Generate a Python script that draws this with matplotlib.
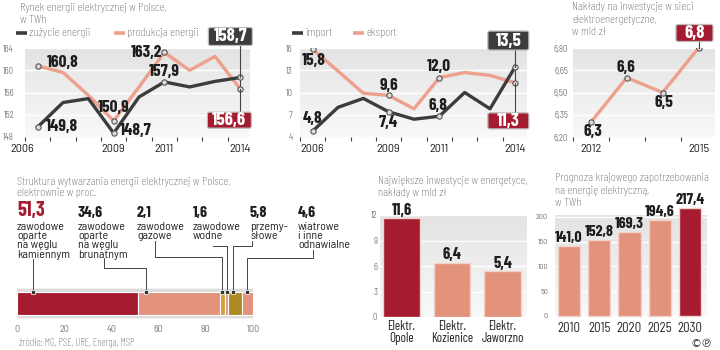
import matplotlib
matplotlib.use('Agg')
import matplotlib.pyplot as plt
import numpy as np
from matplotlib.colors import LinearSegmentedColormap
from matplotlib.patches import FancyBboxPatch
from matplotlib.lines import Line2D
from matplotlib.transforms import IdentityTransform, ScaledTranslation

# ---------------- data ----------------
years = list(range(2006, 2015))
consumption = [149.8, 154.2, 154.9, 148.7, 155.2, 157.9, 157.0, 158.0, 158.7]
production = [160.8, 159.6, 155.5, 150.9, 157.0, 163.2, 160.0, 162.5, 156.6]

imports = [4.8, 8.0, 9.2, 7.4, 6.4, 6.8, 10.0, 7.8, 13.5]
exports = [15.8, 12.9, 9.9, 9.6, 7.8, 12.0, 12.7, 12.3, 11.3]

inv_years = [2012, 2013, 2014, 2015]
inv_values = [6.3, 6.6, 6.5, 6.8]

struct_values = [51.3, 34.6, 2.1, 1.6, 5.8, 4.6]
struct_labels = [["zawodowe", "oparte", "na węglu", "kamiennym"],
                 ["zawodowe", "oparte", "na węglu", "brunatnym"],
                 ["zawodowe", "gazowe"],
                 ["zawodowe", "wodne"],
                 ["przemy-", "słowe"],
                 ["wiatrowe", "i inne", "odnawialne"]]

plants = ["Elektr.\nOpole", "Elektr.\nKozienice", "Elektr.\nJaworzno"]
plant_values = [11.6, 6.4, 5.4]

fc_years = ["2010", "2015", "2020", "2025", "2030"]
fc_values = [141.0, 152.8, 169.3, 194.6, 217.4]

# ---------------- style ----------------
W, H = 720, 350
fig = plt.figure(figsize=(7.2, 3.5), dpi=100)
NUM = ['Barlow Condensed', 'DejaVu Sans']
SEMI = ['Barlow Semi Condensed', 'DejaVu Sans']
COND = ['Barlow Condensed', 'DejaVu Sans']
DARK = '#3c3c3c'
RED = '#a51c30'
SALMON = '#e3927c'
ORANGE = '#eda08c'
GOLD1 = '#cfa43a'
GOLD2 = '#ac8a24'
GRAY = '#777777'
TITLE = '#505050'
TXTC = '#1e1e1e'
cmap_bg = LinearSegmentedColormap.from_list('bg', ['#f9f9f9', '#e3e3e3'])


def fmt(v, nd=1):
    return f"{v:.{nd}f}".replace('.', ',')


def ax_px(x0, y0, x1, y1):
    return fig.add_axes([x0 / W, 1 - y1 / H, (x1 - x0) / W, (y1 - y0) / H])


def ft(x, y, s, **kw):
    fig.text(x / W, 1 - y / H, s, **kw)


def title(x, y, s):
    ft(x, y, s, fontsize=9, color=TITLE, family=COND, fontweight='light',
       va='center', ha='left')


def background(ax):
    grad = np.linspace(0, 1, 200).reshape(-1, 1)
    ax.imshow(grad, extent=[0, 1, 0, 1], transform=ax.transAxes, cmap=cmap_bg,
              aspect='auto', origin='lower', zorder=0, interpolation='bilinear')


def style_line(ax, xlim, ylim, yticks, ylabels, xmajor, ypad):
    background(ax)
    ax.set_xlim(xlim)
    ax.set_ylim(ylim)
    for s in ax.spines.values():
        s.set_visible(False)
    ax.set_yticks(yticks)
    ax.set_yticklabels(ylabels, fontsize=6.3, color=GRAY, family=SEMI)
    ax.tick_params(axis='y', length=0, pad=ypad)
    ax.set_xticks(xmajor)
    ax.set_xticklabels([str(v) for v in xmajor], fontsize=8.8, color='#222222', family=SEMI)
    ax.tick_params(axis='x', which='major', length=0, pad=5)
    ax.set_xticks([v + 0.5 for v in range(int(xlim[0]), int(xlim[1]))], minor=True)
    ax.tick_params(axis='x', which='minor', length=3, width=0.8, color='#444444')
    ax.grid(axis='y', color='white', lw=1.0)
    ax.set_axisbelow(True)


def mark(ax, x, y):
    ax.plot([x], [y], 'o', ms=3.8, mfc='#dddddd', mec='#555555', mew=0.8, zorder=5)


def num(ax, x, y, dx, dy, s, size=12.5, color=TXTC):
    ax.annotate(s, (x, y), xytext=(dx, dy), textcoords='offset pixels',
                ha='center', va='center', fontsize=size, fontweight='bold',
                family=NUM, color=color, zorder=6, annotation_clip=False)


def box(ax, x, y, cx_off, cy_off, w, h, s, fc):
    """Box centred at (point + offset) pixels, with a vertical connector to the point."""
    px, py = ax.transData.transform((x, y))
    cx, cy = px + cx_off, py + cy_off
    fig.add_artist(FancyBboxPatch((cx - w / 2, cy - h / 2), w, h,
                                  boxstyle='round,pad=0,rounding_size=2',
                                  fc=fc, ec='#bdbdbd', lw=0.9,
                                  transform=IdentityTransform(), zorder=8))
    fig.text(cx, cy - 0.5, s, transform=IdentityTransform(), ha='center', va='center',
             fontsize=13.5, fontweight='bold', family=NUM, color='white', zorder=9)
    edge = cy - h / 2 if cy > py else cy + h / 2
    fig.add_artist(Line2D([px, px], [edge, py], color='#444444', lw=0.8,
                          transform=IdentityTransform(), zorder=7))


def legend_item(x, y, color, label):
    fig.add_artist(Line2D([x / W, (x + 11) / W], [1 - y / H, 1 - y / H],
                          color=color, lw=2.6, solid_capstyle='butt'))
    ft(x + 13, y, label, fontsize=9, color=TITLE, family=COND, fontweight='light',
       va='center', ha='left')


# ---------------- chart 1: market ----------------
ax1 = ax_px(25, 48, 250, 137)
style_line(ax1, (2005.81, 2014.38), (148, 164), [148, 152, 156, 160, 164],
           ['148', '152', '156', '160', '164'], [2006, 2009, 2011, 2014], 8)
# first year label sits left of the plot area in the original
lab0 = ax1.get_xticklabels()[0]
lab0.set_transform(lab0.get_transform() + ScaledTranslation(-0.15, 0, fig.dpi_scale_trans))
ax1.plot(years, production, color=ORANGE, lw=2.4, zorder=3)
ax1.plot(years, consumption, color=DARK, lw=2.4, zorder=4)
ax1.vlines(years[-1], production[-1], consumption[-1], color='#444444', lw=0.8, zorder=4)
for i in [0, 3, 5, 8]:
    mark(ax1, years[i], production[i])
    mark(ax1, years[i], consumption[i])
num(ax1, years[0], production[0], 25, 3, fmt(production[0]))
num(ax1, years[0], consumption[0], 24, 0, fmt(consumption[0]))
num(ax1, years[3], production[3], 0, 13, fmt(production[3]))
num(ax1, years[3], consumption[3], 22, 3, fmt(consumption[3]))
num(ax1, years[5], production[5], -18, 0, fmt(production[5]))
num(ax1, years[5], consumption[5], 0, 10, fmt(consumption[5]))
box(ax1, years[8], consumption[8], -10, 41, 44, 18, fmt(consumption[8]), DARK)
box(ax1, years[8], production[8], -11, -31, 44, 16, fmt(production[8]), RED)
title(20, 8, "Rynek energii elektrycznej w Polsce,")
title(20, 20, "w TWh")
legend_item(16, 33, DARK, "zużycie energii")
legend_item(114, 33, ORANGE, "produkcja energii")

# ---------------- chart 2: import/export ----------------
ax2 = ax_px(300, 48, 527, 137)
style_line(ax2, (2005.77, 2014.46), (4, 16), [4, 7, 10, 13, 16],
           ['4', '7', '10', '13', '16'], [2006, 2009, 2011, 2014], 5.5)
ax2.plot(years, exports, color=ORANGE, lw=2.4, zorder=3)
ax2.plot(years, imports, color=DARK, lw=2.4, zorder=4)
ax2.vlines(years[-1], exports[-1], imports[-1], color='#444444', lw=0.8, zorder=4)
for i in [0, 3, 5, 8]:
    mark(ax2, years[i], exports[i])
    mark(ax2, years[i], imports[i])
num(ax2, years[0], exports[0], 1, -11, fmt(exports[0]))
num(ax2, years[0], imports[0], 0, 13, fmt(imports[0]))
num(ax2, years[3], exports[3], 0, 10, fmt(exports[3]))
num(ax2, years[3], imports[3], 0, -11, fmt(imports[3]))
num(ax2, years[5], exports[5], 0, 11, fmt(exports[5]))
num(ax2, years[5], imports[5], -1, 11, fmt(imports[5]))
box(ax2, years[8], imports[8], -7, 26, 41, 19, fmt(imports[8]), DARK)
box(ax2, years[8], exports[8], -7, -38, 41, 16, fmt(exports[8]), RED)
legend_item(292, 33, DARK, "import")
legend_item(353, 33, ORANGE, "eksport")

# ---------------- chart 3: grid investment ----------------
ax3 = ax_px(573, 48, 715, 137)
style_line(ax3, (2011.59, 2015.46), (6.20, 6.80), [6.20, 6.35, 6.50, 6.65, 6.80],
           ['6,20', '6,35', '6,50', '6,65', '6,80'], [2012, 2015], 3.5)
ax3.plot(inv_years, inv_values, color=ORANGE, lw=2.4, zorder=3)
for x, v in zip(inv_years, inv_values):
    mark(ax3, x, v)
num(ax3, inv_years[0], inv_values[0], 2, -9, fmt(inv_values[0]))
num(ax3, inv_years[1], inv_values[1], -1, 10, fmt(inv_values[1]))
num(ax3, inv_years[2], inv_values[2], 1, -10, fmt(inv_values[2]))
box(ax3, inv_years[3], inv_values[3], -4, 15, 37, 17, fmt(inv_values[3]), RED)
title(572, 7, "Nakłady na inwestycje w sieci")
title(572, 20, "elektroenergetyczne,")
title(572, 32, "w mld zł")

# ---------------- chart 4: structure ----------------
title(17, 182, "Struktura wytwarzania energii elektrycznej w Polsce,")
title(17, 193, "elektrownie w proc.")
ax4 = ax_px(17, 288, 253, 319)
ax4.set_xlim(0, 100)
ax4.set_ylim(0, 1)
for s in ax4.spines.values():
    s.set_visible(False)
ax4.set_yticks([])
ax4.set_xticks([0, 20, 40, 60, 80, 100])
ax4.set_xticklabels(['0', '20', '40', '60', '80', '100'], fontsize=7.2, color=GRAY, family=SEMI)
ax4.tick_params(axis='x', length=0, pad=4)
ax4.add_patch(FancyBboxPatch((-0.6, 0.02), 101.2, 0.96, boxstyle='round,pad=0,rounding_size=1.2',
                             fc='#dcdcdc', ec='none', zorder=0, mutation_aspect=0.03))
seg_colors = [RED, SALMON, GOLD1, SALMON, GOLD2, SALMON]
lefts = np.concatenate([[0], np.cumsum(struct_values)[:-1]])
ax4.barh([0.5] * len(struct_values), struct_values, left=lefts, height=0.74,
         color=seg_colors, edgecolor='white', linewidth=0.8, zorder=2)

label_x = [17, 78, 137, 193, 250, 298]
for i, (v, lines) in enumerate(zip(struct_values, struct_labels)):
    if i == 0:
        ft(label_x[i], 211, fmt(v), fontsize=14.5, fontweight='bold', family=NUM,
           color=RED, va='center')
    else:
        ft(label_x[i], 213, fmt(v), fontsize=11.5, fontweight='bold', family=NUM,
           color=TXTC, va='center')
    for k, line in enumerate(lines):
        ft(label_x[i], 227 + 9.2 * k, line, fontsize=8.5, color='#222222', family=SEMI,
           va='center')

# leader lines (pixel paths) and markers on bar top
leaders = [[(33, 259), (33, 292)],
           [(104, 258), (104, 268), (146, 268), (146, 292)],
           [(155, 241), (155, 257), (222, 257), (222, 292)],
           [(213, 246), (227, 246), (227, 292)],
           [(252, 241), (252, 246), (233, 246), (233, 292)],
           [(313, 250), (313, 258), (247, 258), (247, 292)]]
for path in leaders:
    xs = [p[0] / W for p in path]
    ys = [1 - p[1] / H for p in path]
    fig.add_artist(Line2D(xs, ys, color='#444444', lw=0.7))
    fig.add_artist(Line2D([xs[-1]], [ys[-1]], marker='s', ms=2.6, mfc='#333333',
                          mec='#eeeeee', mew=0.6, lw=0))
ft(19, 343, "źródło: MG, PSE, URE, Energa, MSP", fontsize=7.6, color='#555555',
   family=COND, fontweight='light', va='center')

# ---------------- chart 5: biggest investments ----------------
title(378, 181, "Największe inwestycje w energetyce,")
title(378, 193, "nakłady w mld zł")
ax5 = ax_px(380, 215, 527, 317)
background(ax5)
ax5.set_xlim(-0.426, 2.485)
ax5.set_ylim(0, 12)
for s in ax5.spines.values():
    s.set_visible(False)
ax5.set_yticks([0, 3, 6, 9, 12])
ax5.set_yticklabels(['0', '3', '6', '9', '12'], fontsize=6.3, color=GRAY, family=SEMI)
ax5.tick_params(axis='y', length=0, pad=2)
ax5.grid(axis='y', color='white', lw=1.0)
ax5.set_axisbelow(True)
xpos = np.arange(len(plants))
ax5.bar(xpos, plant_values, width=0.73, color=[RED, SALMON, SALMON],
        edgecolor='#f2d2c8', linewidth=1.0, zorder=3)
ax5.set_xticks(xpos)
ax5.set_xticklabels(plants, fontsize=9.3, color='#222222', family=COND, linespacing=0.95)
ax5.tick_params(axis='x', length=0, pad=2)
for x, v in zip(xpos, plant_values):
    ax5.annotate(fmt(v), (x, v), xytext=(0, 8), textcoords='offset pixels', ha='center',
                 va='center', fontsize=12, fontweight='bold', family=NUM, color=TXTC)

# ---------------- chart 6: forecast ----------------
title(555, 178, "Prognoza krajowego zapotrzebowania")
title(555, 191, "na energię elektryczną,")
title(555, 203, "w TWh")
ax6 = ax_px(555, 215, 707, 316)
background(ax6)
ax6.set_xlim(-0.46, 4.56)
ax6.set_ylim(0, 204)
for s in ax6.spines.values():
    s.set_visible(False)
ax6.set_yticks([0, 50, 100, 150, 200])
ax6.set_yticklabels(['0', '50', '100', '150', '200'], fontsize=5.8, color=GRAY, family=SEMI)
ax6.tick_params(axis='y', length=0, pad=5)
ax6.grid(axis='y', color='white', lw=1.0)
ax6.set_axisbelow(True)
xpos6 = np.arange(len(fc_years))
bars6 = ax6.bar(xpos6, fc_values, width=0.73,
                color=[SALMON, SALMON, SALMON, SALMON, RED],
                edgecolor='#f2d2c8', linewidth=1.0, zorder=3)
for b in bars6:
    b.set_clip_on(False)
ax6.set_xticks(xpos6)
ax6.set_xticklabels(fc_years, fontsize=9.3, color='#222222', family=SEMI)
ax6.tick_params(axis='x', length=0, pad=4)
for x, v in zip(xpos6, fc_values):
    ax6.annotate(fmt(v), (x, v), xytext=(0, 8), textcoords='offset pixels', ha='center',
                 va='center', fontsize=11.5, fontweight='bold', family=NUM, color=TXTC,
                 annotation_clip=False)
ft(713, 344, "©℗", fontsize=8, color='#333333', family=['DejaVu Sans'], va='center', ha='right')

fig.savefig('out.png', dpi=100)
